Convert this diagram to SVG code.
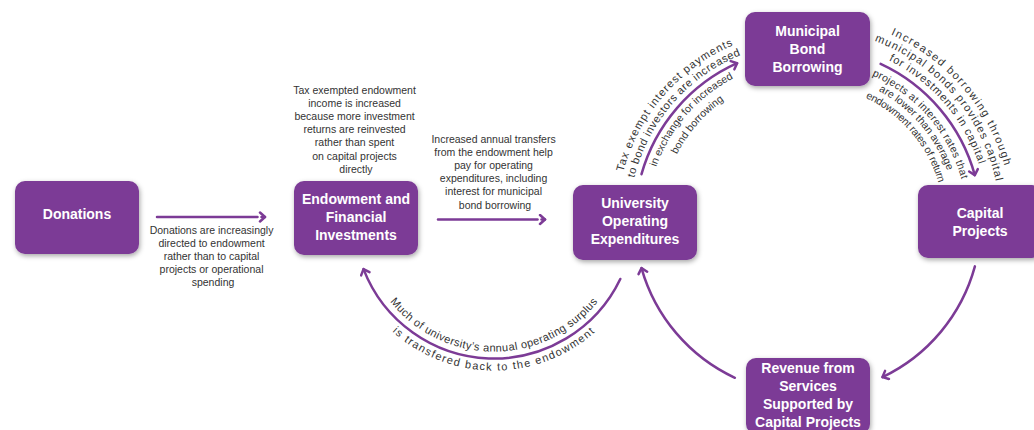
<svg xmlns="http://www.w3.org/2000/svg" xmlns:xlink="http://www.w3.org/1999/xlink" width="1034" height="430" viewBox="0 0 1034 430">
  <style>
    .node rect { fill: #7c3b96; filter: url(#shadow); }
    .title { font-family: "Liberation Sans", Arial, sans-serif; font-size: 14px; font-weight: bold; fill: #ffffff; text-anchor: middle; }
    .note { font-family: "Liberation Sans", Arial, sans-serif; font-size: 10.5px; fill: #333333; text-anchor: middle; }
    .arc { font-family: "Liberation Sans", Arial, sans-serif; font-size: 11px; fill: #333333; }
    .arc-sm { font-family: "Liberation Sans", Arial, sans-serif; font-size: 10.5px; fill: #333333; }
    .flow { fill: none; stroke: #7c3b96; stroke-width: 2.5; stroke-linecap: round; }
    .guide { fill: none; stroke: none; }
  </style>
  <defs>
    <filter id="shadow" x="-20%" y="-20%" width="140%" height="150%">
      <feDropShadow dx="1" dy="2" stdDeviation="2.5" flood-color="#000000" flood-opacity="0.35"/>
    </filter>
    <marker id="head" markerUnits="userSpaceOnUse" markerWidth="14" markerHeight="14" refX="7" refY="6" orient="auto">
      <path d="M2,1.5 L7,6 L2,10.5" fill="none" stroke="#7c3b96" stroke-width="2.5" stroke-linecap="round" stroke-linejoin="round"/>
    </marker>

    <!-- baselines for curved labels: big circle centred (808,221) -->
    <path id="tA1" d="M619.35,250.88 A191,191 0 0 1 811.33,30.03"/>
    <path id="tA2" d="M631.2,249.0 A179,179 0 0 1 811.12,42.03"/>
    <path id="tA3" d="M648.98,246.19 A161,161 0 0 1 810.81,60.02"/>
    <path id="tA4" d="M662.81,244.0 A147,147 0 0 1 810.57,74.02"/>

    <path id="tB1" d="M805.51,17.01 A204,204 0 0 1 1009.32,253.97"/>
    <path id="tB2" d="M805.65,29.01 A192,192 0 0 1 997.48,252.03"/>
    <path id="tB3" d="M805.80,41.01 A180,180 0 0 1 985.63,250.09"/>
    <path id="tB4" d="M806.06,62.01 A159,159 0 0 1 964.91,246.69"/>
    <path id="tB5" d="M806.19,73.01 A148,148 0 0 1 954.06,244.92"/>
    <path id="tB6" d="M806.34,85.01 A136,136 0 0 1 942.21,242.98"/>

    <!-- baselines for the surplus label: circle centred (494,218.5) -->
    <path id="tS1" d="M363.0,241.6 A133,133 0 0 0 625.0,241.6"/>
    <path id="tS2" d="M344.3,244.9 A152,152 0 0 0 643.7,244.9"/>
  </defs>

  <rect width="1034" height="430" fill="#ffffff"/>

  <!-- connectors -->
  <g id="connectors">
    <path class="flow" d="M157,217 L257.5,217"/>
    <path class="flow" d="M261.5,217 L265,217" marker-end="url(#head)"/>
    <path class="flow" d="M438,219.5 L537.5,219.5"/>
    <path class="flow" d="M541.5,219.5 L545,219.5" marker-end="url(#head)"/>

    <path class="flow" d="M641.5,174.2 A173,173 0 0 1 737.1,63.2" marker-end="url(#head)"/>
    <path class="flow" d="M880.6,63.9 A173,173 0 0 1 974.8,175.1" marker-end="url(#head)"/>
    <path class="flow" d="M974.9,266.4 A173,173 0 0 1 882.5,377.1" marker-end="url(#head)"/>
    <path class="flow" d="M734.9,377.8 A173,173 0 0 1 641.5,268.1" marker-end="url(#head)"/>
    <path class="flow" d="M620.3,279 A140,140 0 0 1 363.5,269.1" marker-end="url(#head)"/>
  </g>

  <!-- connector labels -->
  <g id="labels">
    <text class="note">
      <tspan x="213" y="233.5">Donations are increasingly</tspan>
      <tspan x="213" y="246.7">directed to endowment</tspan>
      <tspan x="213" y="259.9">rather than to capital</tspan>
      <tspan x="213" y="273.1">projects or operational</tspan>
      <tspan x="213" y="286.3">spending</tspan>
    </text>
    <text class="note">
      <tspan x="356" y="93.5">Tax exempted endowment</tspan>
      <tspan x="356" y="106.7">income is increased</tspan>
      <tspan x="356" y="119.9">because more investment</tspan>
      <tspan x="356" y="133.1">returns are reinvested</tspan>
      <tspan x="356" y="146.3">rather than spent</tspan>
      <tspan x="356" y="159.5">on capital projects</tspan>
      <tspan x="356" y="172.7">directly</tspan>
    </text>
    <text class="note">
      <tspan x="495" y="142.5">Increased annual transfers</tspan>
      <tspan x="495" y="155.7">from the endowment help</tspan>
      <tspan x="495" y="168.9">pay for operating</tspan>
      <tspan x="495" y="182.1">expenditures, including</tspan>
      <tspan x="495" y="195.3">interest for municipal</tspan>
      <tspan x="495" y="208.5">bond borrowing</tspan>
    </text>

    <text class="arc" letter-spacing="1"><textPath xlink:href="#tA1" href="#tA1" startOffset="50%" text-anchor="middle">Tax exempt interest payments</textPath></text>
    <text class="arc" letter-spacing="0.5"><textPath xlink:href="#tA2" href="#tA2" startOffset="50%" text-anchor="middle">to bond investors are increased</textPath></text>
    <text class="arc-sm"><textPath xlink:href="#tA3" href="#tA3" startOffset="50%" text-anchor="middle">in exchange for increased</textPath></text>
    <text class="arc-sm"><textPath xlink:href="#tA4" href="#tA4" startOffset="50%" text-anchor="middle">bond borrowing</textPath></text>

    <text class="arc" letter-spacing="1.5"><textPath xlink:href="#tB1" href="#tB1" startOffset="50%" text-anchor="middle">Increased borrowing through</textPath></text>
    <text class="arc" letter-spacing="1.1"><textPath xlink:href="#tB2" href="#tB2" startOffset="50%" text-anchor="middle">municipal bonds provides capital</textPath></text>
    <text class="arc" letter-spacing="0.8"><textPath xlink:href="#tB3" href="#tB3" startOffset="50%" text-anchor="middle">for investments in capital</textPath></text>
    <text class="arc-sm" letter-spacing="0.3"><textPath xlink:href="#tB4" href="#tB4" startOffset="50%" text-anchor="middle">projects at interest rates that</textPath></text>
    <text class="arc-sm"><textPath xlink:href="#tB5" href="#tB5" startOffset="50%" text-anchor="middle">are lower than average</textPath></text>
    <text class="arc-sm" letter-spacing="-0.3"><textPath xlink:href="#tB6" href="#tB6" startOffset="50%" text-anchor="middle">endowment rates of return</textPath></text>

    <text class="arc" letter-spacing="0.4"><textPath xlink:href="#tS1" href="#tS1" startOffset="50%" text-anchor="middle">Much of university’s annual operating surplus</textPath></text>
    <text class="arc" letter-spacing="1.3"><textPath xlink:href="#tS2" href="#tS2" startOffset="50%" text-anchor="middle">is transfered back to the endowment</textPath></text>
  </g>

  <!-- nodes -->
  <g id="donations" class="node">
    <rect x="15" y="181" width="124" height="73" rx="10"/>
    <text class="title" x="77" y="219">Donations</text>
  </g>
  <g id="endowment" class="node">
    <rect x="294" y="181" width="124" height="74" rx="10"/>
    <text class="title"><tspan x="356" y="204">Endowment and</tspan><tspan x="356" y="222">Financial</tspan><tspan x="356" y="240">Investments</tspan></text>
  </g>
  <g id="operating" class="node">
    <rect x="573" y="185" width="124" height="75" rx="10"/>
    <text class="title"><tspan x="635" y="208">University</tspan><tspan x="635" y="226">Operating</tspan><tspan x="635" y="244">Expenditures</tspan></text>
  </g>
  <g id="bonds" class="node">
    <rect x="745" y="12" width="125" height="74" rx="10"/>
    <text class="title"><tspan x="807.5" y="35.5">Municipal</tspan><tspan x="807.5" y="53.5">Bond</tspan><tspan x="807.5" y="71.5">Borrowing</tspan></text>
  </g>
  <g id="capital" class="node">
    <rect x="918" y="185" width="124" height="73" rx="10"/>
    <text class="title"><tspan x="980" y="218">Capital</tspan><tspan x="980" y="236">Projects</tspan></text>
  </g>
  <g id="revenue" class="node">
    <rect x="746" y="358" width="124" height="76" rx="10"/>
    <text class="title"><tspan x="808" y="373">Revenue from</tspan><tspan x="808" y="391">Services</tspan><tspan x="808" y="409">Supported by</tspan><tspan x="808" y="427">Capital Projects</tspan></text>
  </g>
</svg>
